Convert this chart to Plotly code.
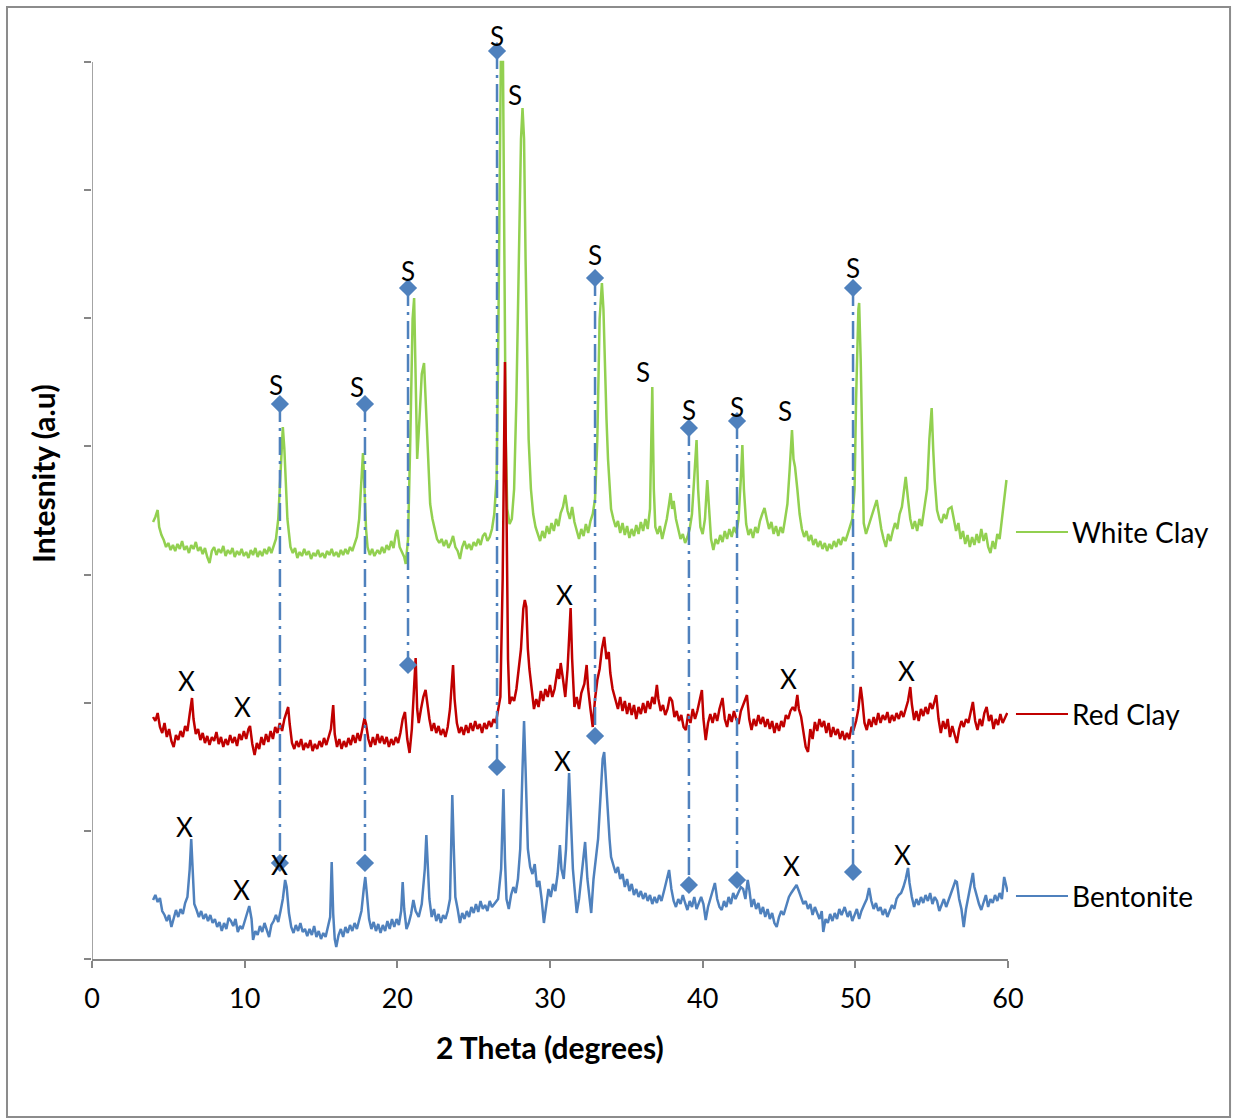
import plotly.graph_objects as go

# ---------------- data (2 theta in degrees, intensity in a.u.) ----------------
white_clay = [
    (4.0, 437), (4.15, 442), (4.3, 449), (4.4, 432), (4.55, 424), (4.7, 419), (4.85, 412), (5.0, 416),
    (5.15, 409), (5.3, 414), (5.45, 408), (5.6, 415), (5.75, 410), (5.9, 418), (6.05, 409), (6.2, 413),
    (6.35, 406), (6.5, 414), (6.65, 410), (6.8, 417), (6.95, 408), (7.1, 412), (7.25, 405), (7.4, 411),
    (7.55, 402), (7.7, 396), (7.85, 408), (8.0, 412), (8.15, 404), (8.3, 410), (8.45, 406), (8.6, 413),
    (8.75, 403), (8.9, 409), (9.05, 405), (9.2, 411), (9.35, 402), (9.5, 408), (9.65, 404), (9.8, 410),
    (9.95, 403), (10.1, 407), (10.25, 401), (10.4, 409), (10.55, 404), (10.7, 411), (10.85, 402), (11.0, 408),
    (11.15, 403), (11.3, 410), (11.45, 405), (11.6, 412), (11.75, 406), (11.9, 413), (12.05, 420), (12.2, 440),
    (12.35, 490), (12.5, 532), (12.6, 510), (12.7, 470), (12.8, 440), (12.9, 426), (13.0, 412), (13.15, 406),
    (13.3, 411), (13.45, 401), (13.6, 407), (13.75, 403), (13.9, 410), (14.05, 404), (14.2, 408), (14.35, 400),
    (14.5, 406), (14.65, 403), (14.8, 409), (14.95, 402), (15.1, 406), (15.25, 401), (15.4, 408), (15.55, 404),
    (15.7, 410), (15.85, 403), (16.0, 407), (16.15, 402), (16.3, 409), (16.45, 404), (16.6, 410), (16.75, 405),
    (16.9, 412), (17.05, 408), (17.2, 415), (17.35, 422), (17.5, 440), (17.65, 475), (17.75, 506), (17.85, 470),
    (17.95, 430), (18.05, 412), (18.2, 404), (18.35, 410), (18.5, 403), (18.7, 409), (18.85, 405), (19.0, 412),
    (19.15, 406), (19.3, 414), (19.45, 409), (19.6, 418), (19.75, 411), (19.9, 425), (20.0, 429), (20.15, 412),
    (20.3, 406), (20.45, 402), (20.55, 395), (20.7, 420), (20.85, 520), (21.0, 640), (21.1, 661), (21.2, 560),
    (21.3, 500), (21.45, 540), (21.6, 585), (21.75, 596), (21.85, 560), (21.95, 520), (22.05, 480), (22.15, 455),
    (22.3, 440), (22.45, 428), (22.6, 420), (22.75, 416), (22.9, 420), (23.05, 413), (23.2, 419), (23.35, 411),
    (23.5, 416), (23.65, 423), (23.8, 412), (23.95, 408), (24.1, 400), (24.25, 412), (24.4, 418), (24.55, 410),
    (24.7, 415), (24.85, 409), (25.0, 417), (25.15, 413), (25.3, 420), (25.45, 414), (25.6, 423), (25.75, 426),
    (25.9, 418), (26.05, 422), (26.2, 430), (26.35, 445), (26.5, 480), (26.6, 600), (26.7, 800), (26.78, 897),
    (26.92, 897), (27.0, 700), (27.1, 520), (27.2, 450), (27.35, 435), (27.5, 440), (27.65, 470), (27.8, 560),
    (27.95, 700), (28.1, 820), (28.2, 851), (28.3, 820), (28.4, 700), (28.5, 600), (28.6, 520), (28.75, 470),
    (28.9, 445), (29.05, 432), (29.2, 425), (29.35, 418), (29.5, 428), (29.65, 421), (29.8, 433), (29.95, 425),
    (30.1, 436), (30.25, 428), (30.4, 440), (30.55, 433), (30.7, 446), (30.85, 452), (31.0, 464), (31.15, 448),
    (31.3, 440), (31.45, 452), (31.6, 437), (31.75, 428), (31.9, 420), (32.05, 430), (32.2, 423), (32.35, 435),
    (32.5, 426), (32.65, 438), (32.8, 445), (32.95, 460), (33.1, 520), (33.25, 640), (33.4, 676), (33.5, 650),
    (33.6, 582), (33.7, 540), (33.8, 500), (33.9, 470), (34.0, 450), (34.15, 440), (34.3, 432), (34.45, 438),
    (34.6, 426), (34.75, 436), (34.9, 424), (35.05, 433), (35.2, 421), (35.35, 430), (35.5, 423), (35.65, 434),
    (35.8, 425), (35.95, 437), (36.1, 428), (36.25, 440), (36.4, 430), (36.55, 450), (36.7, 572), (36.8, 470),
    (36.9, 432), (37.05, 425), (37.2, 433), (37.35, 420), (37.5, 430), (37.65, 440), (37.8, 455), (37.9, 466),
    (38.0, 450), (38.1, 458), (38.25, 440), (38.4, 428), (38.55, 420), (38.7, 425), (38.85, 416), (39.0, 422),
    (39.15, 430), (39.3, 445), (39.45, 480), (39.6, 519), (39.7, 470), (39.85, 432), (40.0, 425), (40.15, 440),
    (40.3, 479), (40.4, 450), (40.55, 420), (40.7, 409), (40.85, 420), (41.0, 415), (41.15, 424), (41.3, 417),
    (41.45, 428), (41.6, 420), (41.75, 430), (41.9, 422), (42.05, 432), (42.2, 426), (42.35, 440), (42.5, 480),
    (42.6, 514), (42.7, 470), (42.85, 435), (43.0, 424), (43.15, 430), (43.3, 421), (43.45, 432), (43.6, 426),
    (43.75, 438), (43.9, 445), (44.05, 451), (44.2, 440), (44.35, 430), (44.5, 437), (44.65, 425), (44.8, 433),
    (44.95, 423), (45.1, 432), (45.25, 426), (45.4, 440), (45.55, 455), (45.7, 490), (45.85, 529), (45.95, 500),
    (46.05, 492), (46.2, 470), (46.35, 445), (46.5, 430), (46.65, 422), (46.8, 428), (46.95, 418), (47.1, 424),
    (47.25, 414), (47.4, 420), (47.55, 412), (47.7, 418), (47.85, 410), (48.0, 416), (48.15, 408), (48.3, 415),
    (48.45, 410), (48.6, 418), (48.75, 412), (48.9, 420), (49.05, 414), (49.2, 422), (49.35, 418), (49.5, 425),
    (49.65, 432), (49.8, 440), (49.95, 470), (50.05, 560), (50.2, 650), (50.25, 656), (50.35, 600), (50.45, 500),
    (50.55, 436), (50.7, 425), (50.85, 432), (51.0, 440), (51.15, 448), (51.4, 459), (51.55, 445), (51.7, 430),
    (51.85, 420), (52.0, 412), (52.15, 425), (52.3, 418), (52.45, 428), (52.6, 436), (52.75, 430), (52.9, 445),
    (53.05, 452), (53.2, 470), (53.3, 482), (53.45, 460), (53.6, 440), (53.75, 430), (53.9, 438), (54.05, 428),
    (54.2, 440), (54.35, 433), (54.5, 448), (54.7, 470), (54.85, 520), (55.0, 551), (55.1, 510), (55.2, 479),
    (55.35, 449), (55.5, 440), (55.65, 436), (55.8, 445), (55.95, 440), (56.1, 450), (56.3, 452), (56.45, 440),
    (56.6, 428), (56.75, 436), (56.9, 420), (57.05, 428), (57.2, 415), (57.35, 424), (57.5, 412), (57.65, 422),
    (57.8, 414), (57.95, 425), (58.1, 416), (58.25, 430), (58.4, 418), (58.55, 426), (58.7, 412), (58.85, 406),
    (59.0, 418), (59.15, 410), (59.3, 425), (59.45, 420), (59.6, 440), (59.75, 455), (59.9, 479),
]

red_clay = [
    (4.0, 242), (4.15, 238), (4.3, 246), (4.45, 232), (4.6, 226), (4.75, 236), (4.9, 222), (5.05, 230),
    (5.2, 218), (5.35, 212), (5.5, 224), (5.65, 219), (5.8, 228), (5.95, 222), (6.1, 233), (6.25, 228),
    (6.4, 245), (6.55, 261), (6.65, 240), (6.8, 225), (6.95, 230), (7.1, 219), (7.25, 226), (7.4, 216),
    (7.55, 223), (7.7, 214), (7.85, 222), (8.0, 218), (8.15, 227), (8.3, 215), (8.45, 222), (8.6, 212),
    (8.75, 220), (8.9, 214), (9.05, 224), (9.2, 216), (9.35, 222), (9.5, 213), (9.65, 225), (9.8, 219),
    (9.95, 228), (10.1, 220), (10.25, 230), (10.35, 233), (10.5, 215), (10.65, 204), (10.8, 216), (10.95, 210),
    (11.1, 222), (11.25, 214), (11.4, 225), (11.55, 217), (11.7, 228), (11.85, 220), (12.0, 232), (12.15, 226),
    (12.3, 236), (12.45, 228), (12.6, 240), (12.75, 248), (12.85, 252), (12.95, 235), (13.1, 216), (13.25, 210),
    (13.4, 218), (13.55, 212), (13.7, 220), (13.85, 209), (14.0, 216), (14.15, 211), (14.3, 219), (14.45, 208),
    (14.6, 215), (14.75, 210), (14.9, 218), (15.05, 212), (15.2, 221), (15.35, 214), (15.5, 222), (15.65, 230),
    (15.8, 254), (15.9, 225), (16.05, 212), (16.2, 220), (16.35, 210), (16.5, 218), (16.65, 212), (16.8, 221),
    (16.95, 214), (17.1, 224), (17.25, 216), (17.4, 226), (17.55, 218), (17.7, 230), (17.85, 241), (17.95, 235),
    (18.1, 220), (18.25, 212), (18.4, 222), (18.55, 214), (18.7, 225), (18.85, 216), (19.0, 223), (19.15, 215),
    (19.3, 222), (19.45, 212), (19.6, 220), (19.75, 214), (19.9, 222), (20.05, 216), (20.2, 226), (20.35, 240),
    (20.5, 247), (20.65, 220), (20.8, 206), (20.95, 230), (21.1, 280), (21.2, 301), (21.3, 250), (21.4, 236),
    (21.55, 250), (21.7, 262), (21.85, 269), (21.95, 255), (22.1, 240), (22.25, 228), (22.4, 236), (22.55, 226),
    (22.7, 233), (22.85, 224), (23.0, 230), (23.15, 222), (23.3, 232), (23.45, 250), (23.55, 275), (23.65, 294),
    (23.75, 260), (23.9, 236), (24.05, 226), (24.2, 232), (24.35, 224), (24.5, 234), (24.65, 226), (24.8, 236),
    (24.95, 228), (25.1, 238), (25.25, 230), (25.4, 235), (25.55, 226), (25.7, 236), (25.85, 230), (26.0, 238),
    (26.15, 232), (26.3, 240), (26.45, 236), (26.6, 250), (26.75, 262), (26.9, 380), (27.0, 560), (27.05, 597),
    (27.15, 450), (27.25, 300), (27.35, 255), (27.5, 262), (27.65, 258), (27.8, 270), (27.95, 290), (28.1, 310),
    (28.25, 350), (28.35, 359), (28.45, 352), (28.55, 310), (28.65, 290), (28.8, 270), (28.95, 250), (29.1, 260),
    (29.25, 252), (29.4, 268), (29.55, 258), (29.7, 270), (29.85, 262), (30.0, 274), (30.15, 262), (30.3, 270),
    (30.5, 290), (30.6, 280), (30.7, 296), (30.85, 280), (31.0, 262), (31.15, 290), (31.35, 351), (31.45, 300),
    (31.6, 252), (31.75, 262), (31.9, 250), (32.05, 266), (32.25, 275), (32.4, 294), (32.5, 270), (32.65, 250),
    (32.8, 232), (32.95, 260), (33.1, 279), (33.25, 290), (33.4, 310), (33.55, 322), (33.7, 300), (33.85, 307),
    (33.95, 286), (34.1, 270), (34.3, 259), (34.45, 250), (34.6, 262), (34.75, 248), (34.9, 258), (35.05, 245),
    (35.2, 256), (35.35, 244), (35.5, 254), (35.65, 240), (35.8, 252), (35.95, 245), (36.1, 256), (36.25, 246),
    (36.4, 258), (36.55, 250), (36.7, 262), (36.85, 255), (37.0, 274), (37.1, 260), (37.25, 248), (37.4, 254),
    (37.55, 244), (37.7, 250), (37.85, 262), (38.0, 258), (38.15, 242), (38.3, 248), (38.45, 238), (38.6, 244),
    (38.75, 232), (38.9, 229), (39.05, 245), (39.2, 236), (39.35, 250), (39.5, 240), (39.65, 248), (39.8, 260),
    (39.95, 269), (40.05, 240), (40.2, 219), (40.35, 236), (40.5, 245), (40.65, 236), (40.8, 246), (40.95, 238),
    (41.1, 250), (41.3, 261), (41.45, 240), (41.6, 232), (41.75, 245), (41.9, 237), (42.05, 248), (42.2, 240),
    (42.35, 235), (42.5, 248), (42.65, 255), (42.8, 260), (42.9, 264), (43.05, 240), (43.2, 229), (43.35, 240),
    (43.5, 233), (43.65, 244), (43.8, 235), (43.95, 242), (44.1, 232), (44.25, 240), (44.4, 230), (44.55, 238),
    (44.7, 226), (44.85, 236), (45.0, 228), (45.15, 238), (45.3, 232), (45.45, 244), (45.6, 240), (45.75, 248),
    (45.9, 252), (46.05, 248), (46.2, 264), (46.3, 250), (46.45, 242), (46.6, 225), (46.75, 212), (46.9, 207),
    (47.05, 230), (47.2, 220), (47.35, 237), (47.5, 228), (47.65, 240), (47.8, 232), (47.95, 238), (48.1, 226),
    (48.25, 236), (48.4, 222), (48.55, 232), (48.7, 224), (48.85, 230), (49.0, 220), (49.15, 228), (49.3, 219),
    (49.45, 226), (49.6, 220), (49.75, 232), (49.9, 230), (50.05, 238), (50.2, 250), (50.35, 272), (50.45, 260),
    (50.6, 236), (50.75, 229), (50.9, 240), (51.05, 232), (51.2, 242), (51.35, 234), (51.5, 246), (51.65, 236),
    (51.8, 244), (51.95, 239), (52.1, 247), (52.25, 236), (52.4, 244), (52.55, 238), (52.7, 246), (52.85, 240),
    (53.0, 248), (53.15, 242), (53.3, 250), (53.45, 258), (53.6, 272), (53.7, 255), (53.85, 239), (54.0, 248),
    (54.15, 238), (54.3, 250), (54.45, 243), (54.6, 252), (54.75, 245), (54.9, 256), (55.05, 250), (55.2, 260),
    (55.3, 264), (55.45, 240), (55.6, 226), (55.75, 238), (55.9, 230), (56.05, 240), (56.2, 222), (56.35, 233),
    (56.5, 225), (56.65, 216), (56.8, 230), (56.95, 238), (57.1, 232), (57.25, 240), (57.4, 236), (57.55, 248),
    (57.7, 257), (57.85, 238), (58.0, 229), (58.15, 240), (58.3, 233), (58.45, 246), (58.6, 252), (58.75, 238),
    (58.9, 244), (59.05, 230), (59.2, 240), (59.35, 234), (59.5, 245), (59.65, 236), (59.8, 242), (59.95, 246),
]

bentonite = [
    (4.0, 59), (4.15, 64), (4.3, 57), (4.45, 61), (4.6, 48), (4.75, 44), (4.9, 38), (5.05, 44),
    (5.2, 32), (5.35, 40), (5.5, 49), (5.65, 42), (5.8, 50), (5.95, 45), (6.1, 56), (6.25, 62),
    (6.4, 90), (6.5, 120), (6.6, 90), (6.7, 55), (6.85, 49), (7.0, 42), (7.15, 48), (7.3, 40),
    (7.45, 45), (7.6, 38), (7.75, 44), (7.9, 36), (8.05, 40), (8.2, 32), (8.35, 37), (8.5, 28),
    (8.65, 36), (8.8, 30), (8.95, 41), (9.1, 38), (9.25, 33), (9.4, 40), (9.55, 27), (9.7, 33),
    (9.85, 30), (10.0, 38), (10.15, 46), (10.3, 53), (10.45, 40), (10.55, 19), (10.7, 28), (10.85, 24),
    (11.0, 33), (11.15, 27), (11.3, 36), (11.45, 30), (11.6, 22), (11.75, 34), (11.9, 38), (12.05, 44),
    (12.2, 37), (12.35, 48), (12.5, 60), (12.65, 79), (12.75, 72), (12.9, 46), (13.05, 32), (13.2, 26),
    (13.35, 34), (13.5, 28), (13.65, 36), (13.8, 27), (13.95, 30), (14.1, 23), (14.25, 30), (14.4, 24),
    (14.55, 33), (14.7, 22), (14.85, 28), (15.0, 20), (15.15, 26), (15.3, 22), (15.45, 33), (15.6, 42),
    (15.7, 97), (15.8, 45), (15.9, 20), (16.0, 12), (16.15, 24), (16.3, 30), (16.45, 22), (16.6, 32),
    (16.75, 26), (16.9, 34), (17.05, 28), (17.2, 36), (17.35, 30), (17.5, 40), (17.65, 48), (17.8, 70),
    (17.9, 82), (18.0, 66), (18.15, 40), (18.3, 30), (18.45, 37), (18.6, 28), (18.75, 35), (18.9, 26),
    (19.05, 34), (19.2, 28), (19.35, 38), (19.5, 30), (19.65, 40), (19.8, 32), (19.95, 40), (20.1, 34),
    (20.25, 48), (20.35, 77), (20.45, 50), (20.6, 30), (20.75, 36), (20.9, 45), (21.05, 59), (21.2, 48),
    (21.4, 42), (21.6, 55), (21.8, 90), (21.9, 124), (22.0, 95), (22.1, 60), (22.25, 42), (22.4, 50),
    (22.55, 38), (22.7, 45), (22.85, 36), (23.0, 44), (23.15, 40), (23.3, 48), (23.45, 60), (23.55, 120),
    (23.6, 164), (23.7, 110), (23.8, 62), (23.95, 50), (24.1, 36), (24.25, 46), (24.4, 40), (24.55, 48),
    (24.7, 42), (24.85, 52), (25.0, 46), (25.15, 55), (25.3, 47), (25.45, 58), (25.6, 50), (25.75, 54),
    (25.9, 48), (26.05, 58), (26.2, 52), (26.4, 56), (26.6, 60), (26.8, 90), (26.95, 170), (27.05, 100),
    (27.15, 60), (27.3, 50), (27.45, 64), (27.6, 72), (27.75, 66), (27.9, 80), (28.05, 110), (28.2, 190),
    (28.3, 238), (28.4, 190), (28.55, 110), (28.7, 92), (28.85, 85), (29.0, 95), (29.15, 72), (29.3, 78),
    (29.45, 60), (29.6, 36), (29.75, 56), (29.9, 70), (30.05, 62), (30.2, 75), (30.35, 68), (30.5, 85),
    (30.65, 114), (30.75, 90), (30.9, 80), (31.05, 110), (31.25, 186), (31.35, 150), (31.5, 90), (31.6, 72),
    (31.75, 46), (31.9, 60), (32.05, 80), (32.15, 95), (32.3, 117), (32.45, 80), (32.6, 60), (32.7, 46),
    (32.85, 80), (33.0, 100), (33.15, 120), (33.3, 160), (33.45, 200), (33.55, 207), (33.65, 180), (33.75, 149),
    (33.9, 120), (34.0, 102), (34.15, 95), (34.3, 86), (34.45, 92), (34.6, 80), (34.75, 85), (34.9, 72),
    (35.05, 80), (35.2, 68), (35.35, 75), (35.5, 64), (35.65, 70), (35.8, 62), (35.95, 68), (36.1, 60),
    (36.25, 66), (36.4, 58), (36.55, 64), (36.7, 55), (36.85, 62), (37.0, 56), (37.15, 64), (37.3, 58),
    (37.5, 70), (37.65, 80), (37.8, 89), (37.95, 70), (38.1, 58), (38.25, 52), (38.4, 60), (38.55, 55),
    (38.7, 64), (38.85, 56), (39.0, 49), (39.15, 58), (39.3, 52), (39.45, 62), (39.6, 50), (39.75, 56),
    (39.9, 62), (40.05, 55), (40.2, 39), (40.35, 52), (40.5, 60), (40.65, 70), (40.8, 76), (40.95, 60),
    (41.1, 52), (41.25, 49), (41.4, 58), (41.55, 52), (41.7, 62), (41.85, 55), (42.0, 66), (42.15, 60),
    (42.35, 68), (42.5, 72), (42.65, 70), (42.8, 60), (42.95, 79), (43.05, 70), (43.2, 52), (43.35, 60),
    (43.5, 50), (43.65, 56), (43.8, 45), (43.95, 52), (44.1, 42), (44.25, 50), (44.4, 40), (44.55, 46),
    (44.7, 36), (44.85, 32), (45.0, 42), (45.15, 48), (45.3, 44), (45.5, 55), (45.65, 62), (45.8, 66),
    (45.95, 70), (46.15, 74), (46.3, 68), (46.45, 62), (46.6, 55), (46.75, 58), (46.9, 50), (47.05, 55),
    (47.2, 44), (47.35, 52), (47.5, 46), (47.65, 40), (47.8, 48), (47.9, 27), (48.05, 40), (48.2, 36),
    (48.35, 45), (48.5, 38), (48.65, 46), (48.8, 40), (48.95, 50), (49.1, 44), (49.3, 52), (49.5, 42),
    (49.65, 48), (49.8, 38), (49.95, 44), (50.1, 50), (50.25, 40), (50.4, 48), (50.6, 55), (50.75, 60),
    (50.9, 71), (51.05, 58), (51.2, 50), (51.35, 56), (51.5, 48), (51.65, 52), (51.8, 44), (51.95, 50),
    (52.1, 42), (52.25, 48), (52.4, 54), (52.55, 50), (52.7, 60), (52.85, 64), (53.0, 66), (53.15, 72),
    (53.3, 80), (53.45, 91), (53.55, 76), (53.7, 62), (53.85, 52), (54.0, 60), (54.15, 54), (54.3, 62),
    (54.45, 56), (54.6, 64), (54.75, 58), (54.9, 66), (55.05, 55), (55.2, 62), (55.35, 58), (55.5, 48),
    (55.65, 54), (55.8, 60), (55.95, 52), (56.1, 58), (56.25, 64), (56.4, 70), (56.55, 78), (56.65, 77),
    (56.8, 60), (56.95, 50), (57.1, 32), (57.25, 50), (57.4, 62), (57.55, 72), (57.7, 86), (57.8, 72),
    (57.95, 62), (58.1, 55), (58.25, 49), (58.4, 56), (58.55, 64), (58.7, 52), (58.85, 60), (59.0, 56),
    (59.15, 64), (59.3, 58), (59.45, 66), (59.6, 60), (59.75, 82), (59.9, 72), (59.98, 67),
]

# reference peak lines: 2theta, top marker intensity, bottom marker intensity
ref_theta = [12.31, 17.88, 20.70, 26.53, 32.95, 39.10, 42.25, 49.85]
ref_top = [555, 555, 671, 908, 681, 531, 538, 671]
ref_bottom = [96, 96, 294, 192, 223, 74, 79, 87]

# peak labels
s_theta = [12.05, 17.36, 20.70, 26.53, 27.71, 32.95, 36.09, 39.10, 42.25, 45.39, 49.85]
s_int = [574, 572, 688, 923, 864, 704, 587, 549, 552, 548, 691]
x_theta = [6.22, 9.89, 30.92, 45.59, 53.32, 6.03, 9.76, 12.31, 30.79, 45.85, 53.06]
x_int = [278, 252, 364, 280, 288, 132, 69, 94, 198, 93, 104]

series_names = ["White Clay", "Red Clay", "Bentonite"]
series_colors = ["#92D050", "#C00000", "#4F81BD"]
legend_int = [427, 245, 63]

Y_AXIS_MAX = 897   # top of the drawn y axis (7 tick intervals)
Y_VIEW_MAX = 925   # a little head-room so the top marker/label are visible

# ---------------- figure ----------------
fig = go.Figure()
FONT = "Lato"

for name, color, data in zip(series_names, series_colors, [white_clay, red_clay, bentonite]):
    fig.add_trace(go.Scatter(
        x=[p[0] for p in data], y=[p[1] for p in data], mode="lines", name=name,
        line=dict(color=color, width=2.5), showlegend=False))

for t, top, bot in zip(ref_theta, ref_top, ref_bottom):
    fig.add_trace(go.Scatter(
        x=[t, t], y=[top, bot], mode="lines+markers", showlegend=False, cliponaxis=False,
        line=dict(color="#4F81BD", width=2.5, dash="18px,6px,3px,6px"),
        marker=dict(symbol="diamond", size=14, color="#4F81BD")))

for t, v in zip(s_theta, s_int):
    fig.add_annotation(x=t, y=v, text="S", showarrow=False, xanchor="center", yanchor="middle",
                       font=dict(family=FONT, size=26, color="black"))
for t, v in zip(x_theta, x_int):
    fig.add_annotation(x=t, y=v, text="X", showarrow=False, xanchor="center", yanchor="middle",
                       font=dict(family=FONT, size=26, color="black"))

# series labels at the right
for name, color, v in zip(series_names, series_colors, legend_int):
    fig.add_shape(type="line", xref="paper", yref="y", x0=1.0087, x1=1.0655, y0=v, y1=v,
                  line=dict(color=color, width=2))
    fig.add_annotation(xref="paper", yref="y", x=1.068, y=v, text=name, showarrow=False,
                       xanchor="left", yanchor="middle",
                       font=dict(family=FONT, size=28, color="black"))

# y axis line (only up to the last tick)
fig.add_shape(type="line", xref="x", yref="y", x0=0, x1=0, y0=0, y1=Y_AXIS_MAX,
              line=dict(color="#868686", width=1.5))

# axis titles
fig.add_annotation(xref="paper", yref="paper", x=0.5, y=-0.0951, text="<b>2 Theta (degrees)</b>",
                   showarrow=False, xanchor="center", yanchor="middle",
                   font=dict(family=FONT, size=30, color="black"))
fig.add_annotation(xref="paper", yref="paper", x=-0.0535, y=0.5254, text="<b>Intesnity (a.u)</b>",
                   showarrow=False, textangle=-90, xanchor="center", yanchor="middle",
                   font=dict(family=FONT, size=30, color="black"))

# outer border
fig.add_shape(type="rect", xref="paper", yref="paper", x0=-0.0928, x1=1.2424, y0=-0.1708, y1=1.0292,
              line=dict(color="#8C8C8C", width=2), fillcolor="rgba(0,0,0,0)")

fig.update_layout(
    width=1234, height=1120,
    margin=dict(l=92, r=226, t=34, b=161),
    paper_bgcolor="white", plot_bgcolor="white",
    font=dict(family=FONT, color="black"),
    xaxis=dict(range=[0, 60], tick0=0, dtick=10, showgrid=False, zeroline=False,
               showline=True, linecolor="#868686", linewidth=1.5,
               ticks="outside", ticklen=7, tickcolor="#868686", tickwidth=1.5,
               ticklabelstandoff=8,
               tickfont=dict(family=FONT, size=27, color="black")),
    yaxis=dict(range=[0, Y_VIEW_MAX], tick0=0, dtick=Y_AXIS_MAX / 7, showgrid=False, zeroline=False,
               showline=False,
               ticks="outside", ticklen=7, tickcolor="#868686", tickwidth=1.5,
               showticklabels=False),
)

fig.write_html("out.html")
